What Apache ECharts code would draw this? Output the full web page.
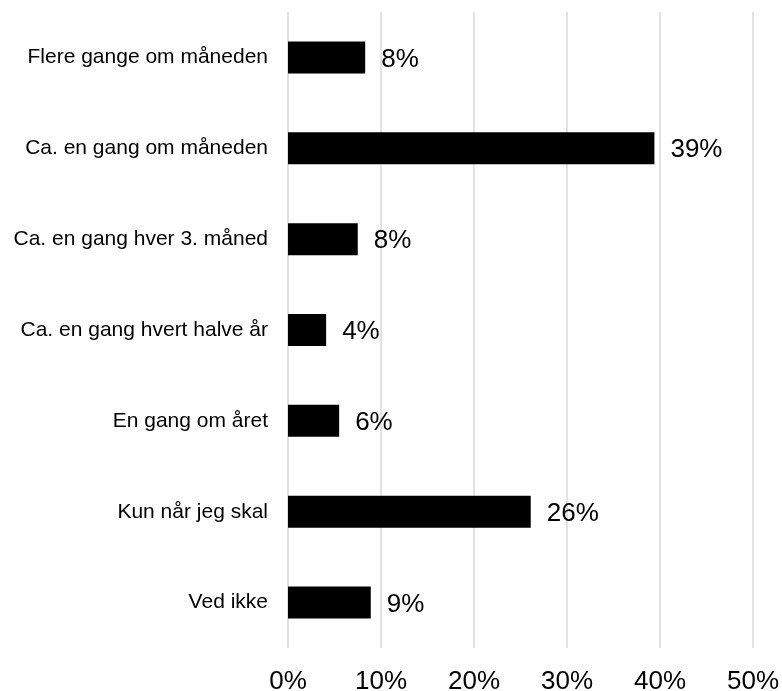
<!DOCTYPE html>
<html>
<head>
<meta charset="utf-8">
<script src="https://cdn.jsdelivr.net/npm/echarts@6/dist/echarts.min.js"></script>
<style>
html,body{margin:0;padding:0;background:#fff;}
#chart{width:782px;height:691px;}
</style>
</head>
<body>
<div id="chart"></div>
<script>
var categories = ['Flere gange om måneden','Ca. en gang om måneden','Ca. en gang hver 3. måned','Ca. en gang hvert halve år','En gang om året','Kun når jeg skal','Ved ikke'];
var values = [8.3, 39.4, 7.5, 4.1, 5.5, 26.1, 8.9];
var xTicks = [0, 10, 20, 30, 40, 50];

var chart = echarts.init(document.getElementById('chart'));
chart.setOption({
  animation: false,
  grid: {left: 288, right: 29, top: 12, bottom: 43, containLabel: false, outerBoundsMode: 'none'},
  xAxis: {
    type: 'value', min: xTicks[0], max: xTicks[xTicks.length-1], interval: 10,
    axisLine: {show: false}, axisTick: {show: false},
    splitLine: {show: true, lineStyle: {color: '#d9d9d9', width: 1.5}},
    axisLabel: {formatter: '{value}%', color: '#000', fontSize: 26, fontFamily: 'Liberation Sans, Arial', margin: 21}
  },
  yAxis: {
    type: 'category', data: categories, inverse: true,
    axisLine: {show: false}, axisTick: {show: false},
    axisLabel: {color: '#000', fontSize: 21, fontFamily: 'Liberation Sans, Arial', margin: 20}
  },
  series: [{
    type: 'bar', data: values, barWidth: 32,
    itemStyle: {color: '#000'},
    label: {
      show: true, position: 'right', distance: 16, offset: [0, 2], color: '#000', fontSize: 26,
      fontFamily: 'Liberation Sans, Arial',
      formatter: function(p){ return Math.round(p.value) + '%'; }
    }
  }]
});
</script>
</body>
</html>
